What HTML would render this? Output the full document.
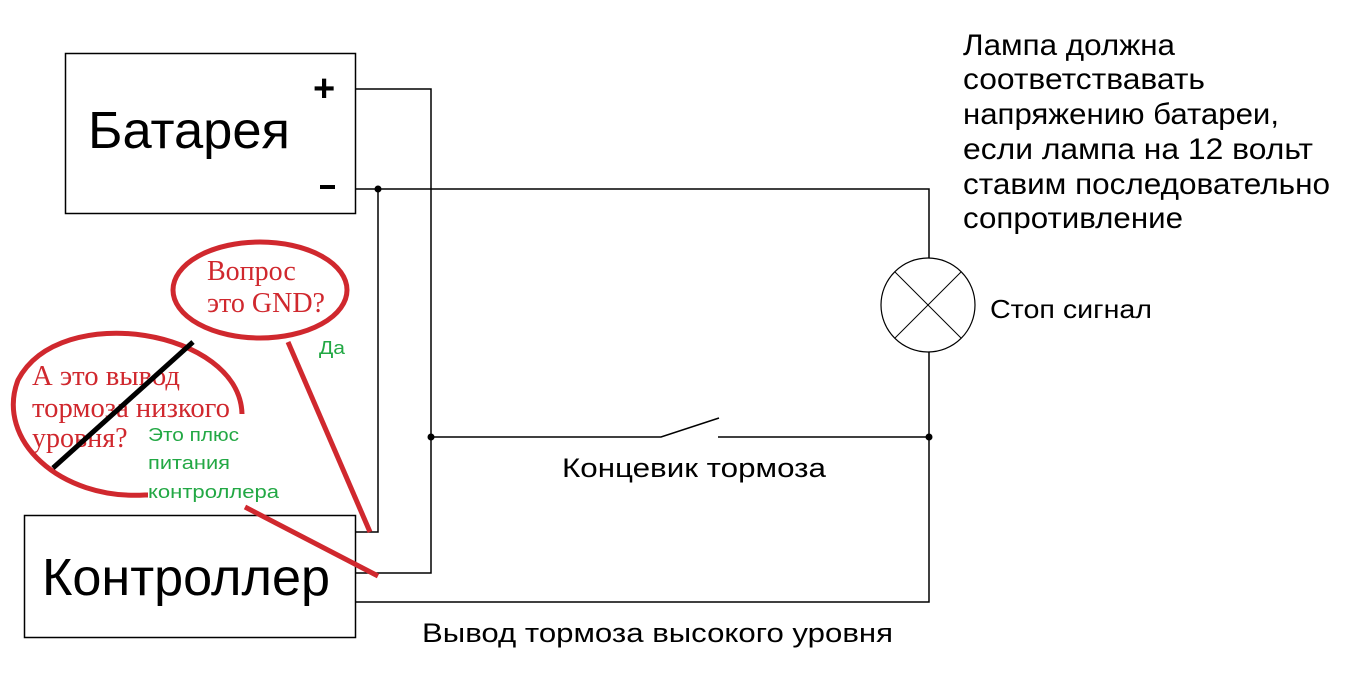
<!DOCTYPE html>
<html><head><meta charset="utf-8"><style>
body{margin:0;background:#fff;width:1364px;height:673px;overflow:hidden}
svg{display:block}
text{font-family:"Liberation Sans",sans-serif}
.s{font-family:"Liberation Serif",serif;fill:#d0282e}
.g{fill:#22a844;font-size:18px}
</style></head><body>
<svg width="1364" height="673" viewBox="0 0 1364 673">
<g fill="none" stroke="#000" stroke-width="1.5">
<rect x="65.5" y="53.5" width="290" height="160"/>
<rect x="24.5" y="515.5" width="331" height="122"/>
<polyline points="355,89 431,89 431,573 355,573"/>
<polyline points="355,189 929,189 929,258"/>
<polyline points="378,189 378,532 355,532"/>
<polyline points="355,602 929,602 929,352"/>
<polyline points="431,437 661,437 719,418"/>
<line x1="718" y1="437" x2="929" y2="437"/>
<circle cx="928" cy="305" r="47" stroke-width="1.2"/>
<line x1="895" y1="272" x2="961" y2="338" stroke-width="1"/>
<line x1="961" y1="272" x2="895" y2="338" stroke-width="1"/>
</g>
<circle cx="378" cy="189" r="3.5"/><circle cx="431" cy="437" r="3.5"/><circle cx="929" cy="437" r="3.5"/>
<text x="88" y="148" font-size="52" textLength="202" lengthAdjust="spacingAndGlyphs">Батарея</text>
<text x="42" y="595" font-size="52" textLength="288" lengthAdjust="spacingAndGlyphs">Контроллер</text>
<text x="313" y="101" font-size="38" font-weight="bold">+</text>
<rect x="320" y="185" width="15" height="4"/>
<g font-size="30">
<text x="963" y="55" textLength="212" lengthAdjust="spacingAndGlyphs">Лампа должна</text>
<text x="963" y="89" textLength="242" lengthAdjust="spacingAndGlyphs">соответствавать</text>
<text x="963" y="124" textLength="316" lengthAdjust="spacingAndGlyphs">напряжению батареи,</text>
<text x="963" y="159" textLength="350" lengthAdjust="spacingAndGlyphs">если лампа на 12 вольт</text>
<text x="963" y="194" textLength="367" lengthAdjust="spacingAndGlyphs">ставим последовательно</text>
<text x="963" y="228" textLength="220" lengthAdjust="spacingAndGlyphs">сопротивление</text>
</g>
<text x="990" y="318" font-size="26" textLength="162" lengthAdjust="spacingAndGlyphs">Стоп сигнал</text>
<text x="562" y="477" font-size="27" textLength="264" lengthAdjust="spacingAndGlyphs">Концевик тормоза</text>
<text x="422" y="642" font-size="27" textLength="471" lengthAdjust="spacingAndGlyphs">Вывод тормоза высокого уровня</text>
<g fill="none" stroke="#d0282e" stroke-width="5">
<ellipse cx="260" cy="290" rx="87" ry="48"/>
<path d="M242,414 C240,330 60,300 18,380 C-5,440 60,500 145,495 L148,495"/>
<line x1="288" y1="342" x2="370" y2="532"/>
<line x1="245" y1="507" x2="378" y2="576"/>
</g>
<text class="s" x="207" y="280" font-size="28">Вопрос</text>
<text class="s" x="207" y="312" font-size="28">это GND?</text>
<text class="s" x="32" y="385" font-size="28" textLength="148" lengthAdjust="spacingAndGlyphs">А это вывод</text>
<text class="s" x="32" y="417" font-size="28" textLength="198" lengthAdjust="spacingAndGlyphs">тормоза низкого</text>
<text class="s" x="32" y="447" font-size="28">уровня?</text>
<line x1="193" y1="342" x2="53" y2="468" stroke="#000" stroke-width="5"/>
<text class="g" x="319" y="354" textLength="26" lengthAdjust="spacingAndGlyphs">Да</text>
<text class="g" x="148" y="441" textLength="91" lengthAdjust="spacingAndGlyphs">Это плюс</text>
<text class="g" x="148" y="469" textLength="82" lengthAdjust="spacingAndGlyphs">питания</text>
<text class="g" x="148" y="498" textLength="131" lengthAdjust="spacingAndGlyphs">контроллера</text>
</svg>
</body></html>
